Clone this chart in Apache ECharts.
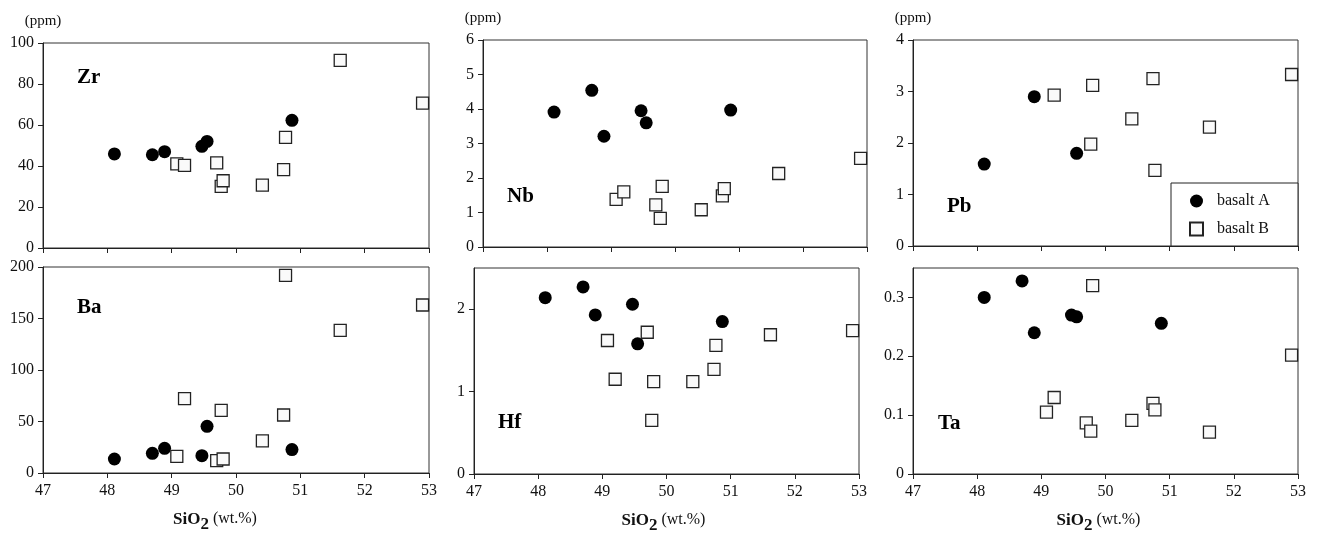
<!DOCTYPE html>
<html>
<head>
<meta charset="utf-8">
<script src="https://cdn.jsdelivr.net/npm/echarts/dist/echarts.min.js"></script>
<style>
  html, body { margin: 0; padding: 0; background: #fff; }
  #chart { width: 1319px; height: 542px; }
</style>
</head>
<body>
<div id="chart"></div>
<script>
// SiO2 (wt.%) of each sample
var basaltA_SiO2 = [48.11, 48.70, 48.89, 49.47, 49.55, 50.87];
var basaltB_SiO2 = [49.08, 49.20, 49.70, 49.77, 49.80, 50.41, 50.74, 50.77, 51.62, 52.90];

// trace elements (ppm), same sample order as above
var basaltA = {
  Zr: [45.9, 45.5, 47.0, 49.6, 52.0, 62.3],
  Nb: [3.91, 4.54, 3.21, 3.95, 3.60, 3.97],
  Pb: [1.59, null, 2.90, null, 1.80, null],
  Ba: [13.6, 19.1, 24.0, 16.8, 45.3, 22.7],
  Hf: [2.14, 2.27, 1.93, 2.06, 1.58, 1.85],
  Ta: [0.300, 0.328, 0.240, 0.270, 0.267, 0.256]
};
var basaltB = {
  Zr: [41.0, 40.3, 41.5, 30.1, 32.8, 30.7, 38.2, 54.0, 91.5, 70.7],
  Nb: [1.38, 1.60, 1.22, 0.83, 1.76, 1.08, 1.48, 1.69, 2.13, 2.57],
  Pb: [null, 2.93, null, 1.98, 3.12, 2.47, 3.25, 1.47, 2.31, 3.33],
  Ba: [16.2, 72.2, 12.0, 60.8, 13.6, 31.1, 56.3, 191.9, 138.5, 163.1],
  Hf: [1.62, 1.15, 1.72, 0.65, 1.12, 1.12, 1.27, 1.56, 1.69, 1.74],
  Ta: [0.105, 0.130, 0.087, 0.073, 0.320, 0.091, 0.120, 0.109, 0.071, 0.202]
};

// y axis ranges per element
var elements = ['Zr', 'Nb', 'Pb', 'Ba', 'Hf', 'Ta'];
var yMax      = [100, 6, 4, 200, 2.5, 0.35];
var yInterval = [20, 1, 1, 50, 1, 0.1];

// layout of each panel
var grids = [
  { left: 43,  top: 43,  width: 386, height: 205 },
  { left: 483, top: 40,  width: 384, height: 207 },
  { left: 913, top: 40,  width: 385, height: 206 },
  { left: 43,  top: 267, width: 386, height: 206 },
  { left: 474, top: 268, width: 385, height: 206 },
  { left: 913, top: 268, width: 385, height: 206 }
];
var labelPos = [[77, 78], [507, 197], [947, 207], [77, 308], [498, 423], [938, 424]];
var nameShift = [42, 6, 14];

var FONT = '"Liberation Serif", "Times New Roman", serif';

function pairs(xs, ys) {
  var out = [];
  for (var i = 0; i < xs.length; i++) {
    if (ys[i] != null) out.push([xs[i], ys[i]]);
  }
  return out;
}

var xAxes = [], yAxes = [], series = [], graphics = [];

elements.forEach(function (el, i) {
  var bottomRow = i >= 3;
  xAxes.push({
    gridIndex: i, type: 'value', min: 47, max: 53, interval: 1,
    axisLine: { lineStyle: { color: '#222', width: 1 } },
    axisTick: { show: true, inside: false, length: 5, lineStyle: { color: '#222' } },
    axisLabel: { show: bottomRow, color: '#111', fontSize: 16, fontFamily: FONT, margin: 10 },
    splitLine: { show: false },
    name: bottomRow ? '{b|SiO}{s|2}{r| (wt.%)}' : '',
    nameLocation: 'middle',
    nameGap: 38,
    nameTextStyle: {
      padding: [0, bottomRow ? nameShift[i - 3] : 0, 0, 0],
      rich: {
        b: { fontFamily: FONT, fontSize: 17, fontWeight: 'bold', color: '#111', verticalAlign: 'top', lineHeight: 18 },
        s: { fontFamily: FONT, fontSize: 17, fontWeight: 'bold', color: '#111', verticalAlign: 'top', lineHeight: 18, padding: [5, 0, 0, 0] },
        r: { fontFamily: FONT, fontSize: 16, color: '#111', verticalAlign: 'top', lineHeight: 18 }
      }
    }
  });
  yAxes.push({
    gridIndex: i, type: 'value', min: 0, max: yMax[i], interval: yInterval[i],
    axisLine: { show: true, lineStyle: { color: '#222', width: 1 } },
    axisTick: { show: true, inside: false, length: 5, lineStyle: { color: '#222' } },
    axisLabel: { color: '#111', fontSize: 16, fontFamily: FONT, margin: 9, showMaxLabel: (yMax[i] % yInterval[i] === 0) },
    splitLine: { show: false },
    name: bottomRow ? '' : '(ppm)',
    nameLocation: 'end',
    nameGap: 14,
    nameTextStyle: { color: '#111', fontSize: 15, fontFamily: FONT }
  });
  series.push({
    name: 'basalt A', type: 'scatter', xAxisIndex: i, yAxisIndex: i,
    symbol: 'circle', symbolSize: 13,
    itemStyle: { color: '#000', opacity: 1 },
    data: pairs(basaltA_SiO2, basaltA[el])
  });
  series.push({
    name: 'basalt B', type: 'scatter', xAxisIndex: i, yAxisIndex: i,
    symbol: 'rect', symbolSize: 12,
    itemStyle: { color: '#fafafa', borderColor: '#222', borderWidth: 1.3, opacity: 1 },
    data: pairs(basaltB_SiO2, basaltB[el])
  });
  graphics.push({
    type: 'text', x: labelPos[i][0], y: labelPos[i][1], z: 5,
    style: { text: el, font: 'bold 21px ' + FONT, fill: '#000', verticalAlign: 'middle' }
  });
});

// legend box inside the Pb panel
graphics.push({
  type: 'rect', z: 3,
  shape: { x: 1171, y: 183, width: 127, height: 63 },
  style: { fill: '#fff', stroke: '#222', lineWidth: 1 }
});

var chart = echarts.init(document.getElementById('chart'));
chart.setOption({
  backgroundColor: '#fff',
  animation: false,
  grid: grids.map(function (g) {
    return Object.assign({ show: true, borderColor: '#333', borderWidth: 1, backgroundColor: 'transparent' }, g);
  }),
  xAxis: xAxes,
  yAxis: yAxes,
  legend: {
    orient: 'vertical', left: 1189, top: 193, padding: 0,
    itemWidth: 13, itemHeight: 13, itemGap: 12, z: 6,
    data: [{ name: 'basalt A', icon: 'circle' }, { name: 'basalt B', icon: 'rect' }],
    textStyle: { fontFamily: FONT, fontSize: 16, color: '#111', padding: [0, 0, 0, 9] }
  },
  graphic: graphics,
  series: series
});
</script>
</body>
</html>
